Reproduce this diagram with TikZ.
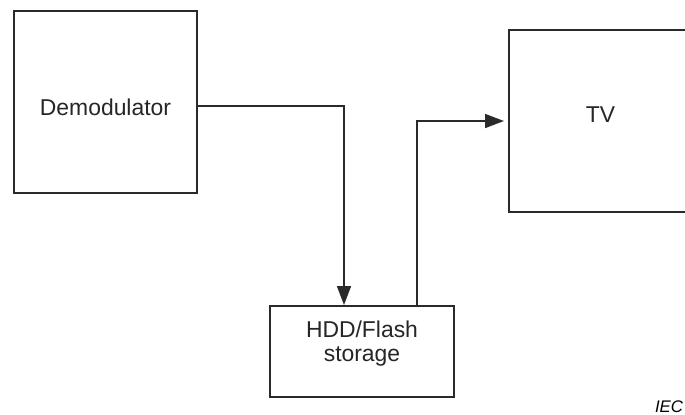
\documentclass[tikz,border=0pt]{standalone}
\usepackage{fontspec}
\setmainfont{Liberation Sans}
\usetikzlibrary{arrows.meta,positioning}
\definecolor{cLine}{HTML}{2A2A2A}
\tikzset{
  blk/.style={draw=cLine, line width=1pt, fill=white, inner sep=0pt,
              minimum width=91.5pt, minimum height=91pt},
  lbl/.style={align=center, font=\fontsize{11.45}{12}\selectfont, inner sep=0pt,
              text=black!85},
  flow/.style={-{Triangle[length=9.5pt,width=7pt]}, line width=0.8pt, draw=cLine},
  tag/.style={font=\fontsize{8.4}{10}\selectfont\itshape, anchor=base, inner sep=0pt},
}
\begin{document}
\begin{tikzpicture}
  \clip (-52.75pt,-156pt) rectangle (289.75pt,51pt);

  % blocks
  \node[blk] (demod) {};
  \node[blk, right=155pt of demod, yshift=-9.5pt] (tv) {};
  \node[blk, minimum width=92pt, minimum height=45.5pt,
        below=55.5pt of demod, xshift=128.25pt] (hdd) {};

  % block texts
  \node[lbl] (demodtxt) at ([yshift=-2.5pt]demod.center) {Demodulator};
  \node[lbl] (tvtxt) at ([yshift=3pt]tv.center) {TV};
  \node[lbl] (hddtxt) at ([yshift=3.75pt]hdd.center) {HDD/Flash\\storage};

  % signal path
  \draw[flow] ([yshift=-2pt]demod.east) -| ([xshift=-9pt]hdd.north);
  \draw[flow, shorten >=2pt] ([xshift=27.5pt]hdd.north) |- (tv.west);

  \node[tag] (iec) at (281.75pt,-155pt) {IEC};
\end{tikzpicture}
\end{document}
